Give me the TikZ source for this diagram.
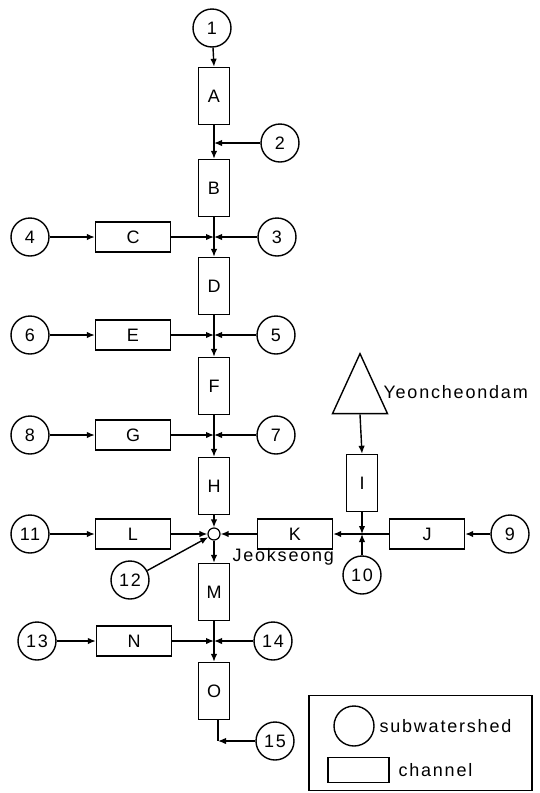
\documentclass[tikz,border=0pt]{standalone}
\usepackage{fontspec}
\setmainfont{Liberation Sans}[LetterSpace=10]
\usetikzlibrary{arrows.meta,shapes.geometric}

\tikzset{
  lbl/.style={font=\fontsize{18}{18}\selectfont},
  sub/.style={circle, draw, line width=1.4pt, minimum size=38pt, inner sep=0pt, lbl},
  vch/.style={rectangle, draw, line width=1.4pt, minimum width=31pt, minimum height=57pt, inner sep=0pt, lbl},
  hch/.style={rectangle, draw, line width=1.4pt, minimum width=75pt, minimum height=30pt, inner sep=0pt, lbl},
  flow/.style={-{Latex[length=8pt,width=6.5pt]}, line width=1.4pt},
  pipe/.style={line width=1.4pt},
}

\begin{document}
\begin{tikzpicture}[x=1pt,y=-1pt]
\useasboundingbox (0,0) rectangle (540,793);

% main channel column
\node[sub] (c1) at (212,28) {1};
\node[vch] (A) at (214,96) {A};
\node[sub] (c2) at (280,143) {2};
\node[vch] (B) at (214,188) {B};

\node[sub] (c4) at (30,237) {4};
\node[hch] (C) at (133,237) {C};
\node[sub] (c3) at (277,237) {3};
\node[vch] (D) at (214,286) {D};

\node[sub] (c6) at (30,335) {6};
\node[hch] (E) at (133,335) {E};
\node[sub] (c5) at (276,335) {5};
\node[vch] (F) at (214,386) {F};

\node[sub] (c8) at (30,435) {8};
\node[hch] (G) at (133,435) {G};
\node[sub] (c7) at (276,435) {7};
\node[vch] (H) at (214,486) {H};

% Jeokseong confluence
\node[circle, draw, line width=1.2pt, minimum size=12pt, inner sep=0pt] (jn) at (214,534) {};
\node[sub] (c11) at (30,534) {11};
\node[hch] (L) at (133,534) {L};
\node[sub] (c12) at (130,580) {12};
\node[lbl, anchor=west] (jlab) at (229,557) {Jeokseong};

% tributary from Yeoncheondam
\node[draw, line width=1.4pt, isosceles triangle, shape border rotate=90,
      isosceles triangle stretches, minimum height=60pt, minimum width=55pt,
      inner sep=0pt] (dam) at (360,396) {};
\node[lbl, anchor=west] (ylab) at (380,392) {Yeoncheondam};
\node[vch] (I) at (362,483) {I};
\node[hch] (K) at (295,534) {K};
\node[hch] (J) at (427,534) {J};
\node[sub] (c9) at (510,534) {9};
\node[sub] (c10) at (362,575) {10};
\coordinate (jk) at (362,534);

\node[vch] (M) at (214,592) {M};
\node[sub] (c13) at (37,641) {13};
\node[hch] (N) at (134,641) {N};
\node[sub] (c14) at (273,641) {14};
\node[vch] (O) at (214,691) {O};
\node[sub] (c15) at (275,741) {15};
\coordinate (out) at (218,741);

% connectors
\draw[flow] (c1) -- (A.north);
\draw[flow] (A.south) -- (B.north);
\draw[flow] (c2) -- (c2 -| A);

\draw[flow] (B.south) -- (D.north);
\draw[flow] (c4) -- (C.west);
\draw[flow] (C.east) -- (C -| B);
\draw[flow] (c3) -- (c3 -| B);

\draw[flow] (D.south) -- (F.north);
\draw[flow] (c6) -- (E.west);
\draw[flow] (E.east) -- (E -| D);
\draw[flow] (c5) -- (c5 -| D);

\draw[flow] (F.south) -- (H.north);
\draw[flow] (c8) -- (G.west);
\draw[flow] (G.east) -- (G -| F);
\draw[flow] (c7) -- (c7 -| F);

\draw[flow] (H.south) -- (jn.north);
\draw[flow] (c11) -- (L.west);
\draw[flow] (L.east) -- (jn.west);
\draw[flow] (c12) -- (jn);
\draw[flow] (K.west) -- (jn.east);

\draw[flow] (dam.south) -- (I.north);
\draw[flow] (I.south) -- (jk);
\draw[flow] (c10) -- (jk);
\draw[pipe] (J.west) -- (jk);
\draw[flow] (jk) -- (K.east);
\draw[flow] (c9) -- (J.east);

\draw[flow] (jn.south) -- (M.north);
\draw[flow] (M.south) -- (O.north);
\draw[flow] (c13) -- (N.west);
\draw[flow] (N.east) -- (N -| M);
\draw[flow] (c14) -- (c14 -| M);

\draw[pipe] (O.south -| out) -- (out);
\draw[flow] (c15) -- (out);

% legend
\node[draw, line width=1.4pt, minimum width=223pt, minimum height=95pt, inner sep=0pt] (legend) at (420.5,743) {};
\node[circle, draw, line width=1.4pt, minimum size=40pt, inner sep=0pt] (lsub) at (354,726) {};
\node[lbl, anchor=west] (lsubt) at (376,726) {subwatershed};
\node[rectangle, draw, line width=1.4pt, minimum width=61pt, minimum height=25pt, inner sep=0pt] (lch) at (358.5,770) {};
\node[lbl, anchor=west] (lcht) at (395,770) {channel};
\end{tikzpicture}
\end{document}
